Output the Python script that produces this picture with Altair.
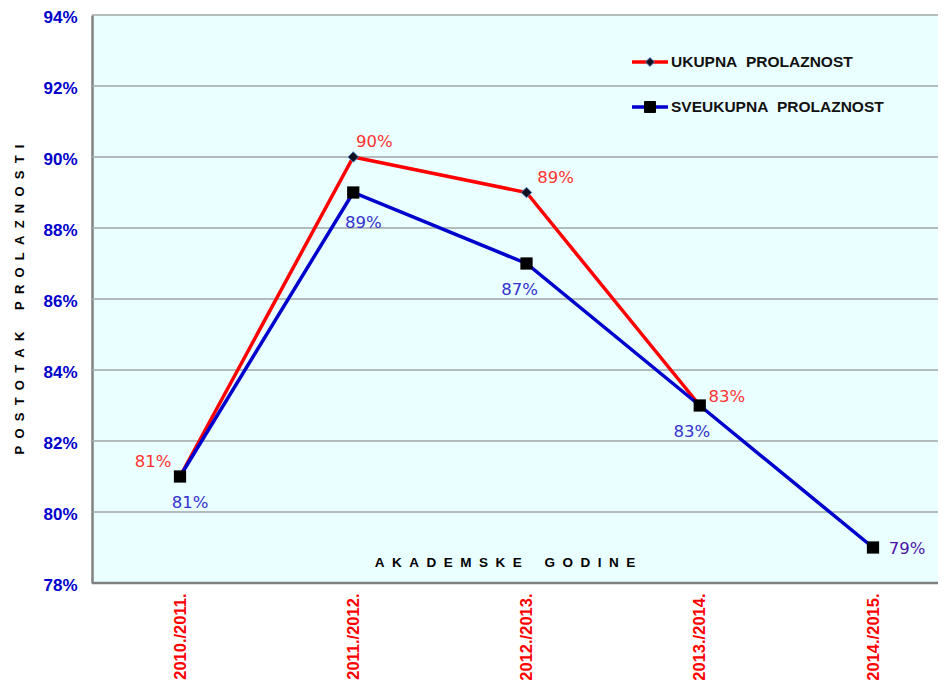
import altair as alt
import pandas as pd

years = ["2010./2011.", "2011./2012.", "2012./2013.", "2013./2014.", "2014./2015."]
ukupna = [81, 90, 89, 83, None]
sveukupna = [81, 89, 87, 83, 79]
series_names = ["UKUPNA PROLAZNOST", "SVEUKUPNA PROLAZNOST"]
y_ticks = [78, 80, 82, 84, 86, 88, 90, 92, 94]

rows = []
for name, vals in zip(series_names, [ukupna, sveukupna]):
    for yr, v in zip(years, vals):
        if v is not None:
            rows.append({"godina": yr, "serija": name, "vrijednost": v})
df = pd.DataFrame(rows)

RED = "#FF0000"
BLUE = "#0000CC"
RED_TXT = "#FF3333"
BLUE_TXT = "#3333CC"
NB = "\u00a0"

def spaced(s, gap=2, word_gap=6):
    words = s.split(" ")
    return (NB * word_gap).join((NB * gap).join(list(w)) for w in words)

# label offsets (style), per series and year index
label_offsets = {
    series_names[0]: [(-27, -15), (21, -15), (29, -15), (27, -9), None],
    series_names[1]: [(10, 26), (10, 30), (-7, 26), (-8, 26), (34, 1)],
}

W, H = 846, 568

x_enc = alt.X("godina:N", sort=years,
              scale=alt.Scale(range=[88, 781], padding=0),
              axis=alt.Axis(title=None, labelAngle=-90, labelColor=RED,
                            labelFont="Liberation Sans", labelFontWeight="bold",
                            labelFontSize=16.5, labelPadding=10, ticks=False,
                            domain=False))
y_axis = alt.Axis(values=y_ticks, labelExpr="datum.value + '%'",
                  labelColor="#0000CC", labelFont="Liberation Sans",
                  labelFontWeight="bold", labelFontSize=17,
                  labelPadding=15, labelOffset=2, ticks=False, grid=False,
                  domainColor="#808080", domainWidth=2.5,
                  title=spaced("POSTOTAK PROLAZNOSTI", 2, 6),
                  titleFont="Liberation Sans", titleFontWeight="bold",
                  titleFontSize=13, titleColor="#000000",
                  titleX=-73, titleY=H / 2, titleAngle=270,
                  titleAlign="center", titleBaseline="middle")
y_scale = alt.Scale(domain=[78, 94], nice=False, zero=False)
y_enc = alt.Y("vrijednost:Q", scale=y_scale, axis=y_axis)
y_grid = alt.Y("v:Q", scale=y_scale, axis=y_axis)

grid_df = pd.DataFrame({"v": y_ticks})
grid = alt.Chart(grid_df).mark_rule(color="#A0A6A6", strokeWidth=1.3).encode(
    x=alt.value(0), x2=alt.value(W), y=y_grid)
bottom = alt.Chart(pd.DataFrame({"v": [y_ticks[0]]})).mark_rule(
    color="#808080", strokeWidth=2.5).encode(x=alt.value(0), x2=alt.value(W), y=y_grid)

red_df = df[df["serija"] == series_names[0]]
blue_df = df[df["serija"] == series_names[1]]

red_line = alt.Chart(red_df).mark_line(color=RED, strokeWidth=3.5).encode(x=x_enc, y=y_enc)
blue_line = alt.Chart(blue_df).mark_line(color=BLUE, strokeWidth=3.5).encode(x=x_enc, y=y_enc)
red_pts = alt.Chart(red_df).mark_point(shape="diamond", size=110, filled=True,
                                       fill="#111122", stroke="#4a7ab5",
                                       strokeWidth=1, opacity=1).encode(x=x_enc, y=y_enc)
blue_pts = alt.Chart(blue_df).mark_point(shape="square", size=150, filled=True,
                                         fill="#000000", opacity=1).encode(x=x_enc, y=y_enc)

layers = [grid, bottom, red_line, blue_line, red_pts, blue_pts]

for name, color in zip(series_names, [RED_TXT, BLUE_TXT]):
    for i, yr in enumerate(years):
        off = label_offsets[name][i]
        if off is None:
            continue
        c = "#4B14A8" if (name == series_names[1] and i == len(years) - 1) else color
        lbl = alt.Chart(df).transform_filter(
            (alt.datum.serija == name) & (alt.datum.godina == yr)
        ).transform_calculate(
            txt="datum.vrijednost + '%'"
        ).mark_text(font="DejaVu Sans", fontSize=16.5, color=c,
                    align="center", baseline="middle",
                    dx=off[0], dy=off[1]).encode(x=x_enc, y=y_enc, text="txt:N")
        layers.append(lbl)

# x-axis title placed inside the plot
xtitle = alt.Chart(pd.DataFrame({"t": [spaced("AKADEMSKE GODINE", 2, 6)]})).mark_text(
    font="Liberation Sans", fontWeight="bold", fontSize=13.5, color="#000000",
    align="center", baseline="middle"
).encode(x=alt.value(413), y=alt.value(548), text="t:N")
layers.append(xtitle)

# manual legend
leg_df = pd.DataFrame({"serija": series_names})
leg_y = [47, 92]
for row, (name, color, shape, size, fill) in enumerate(zip(
        series_names, [RED, BLUE], ["diamond", "square"], [80, 120], ["#111122", "#000000"])):
    d = leg_df[leg_df["serija"] == name]
    rule = alt.Chart(d).mark_rule(color=color, strokeWidth=3.5).encode(
        x=alt.value(540), x2=alt.value(576), y=alt.value(leg_y[row]))
    pt = alt.Chart(d).mark_point(shape=shape, size=size, filled=True, fill=fill,
                                 opacity=1, stroke="#4a7ab5" if row == 0 else "#000000",
                                 strokeWidth=1).encode(
        x=alt.value(558), y=alt.value(leg_y[row]))
    txt = alt.Chart(d).transform_calculate(
        lab="replace(datum.serija, ' ', '\u00a0\u00a0')"
    ).mark_text(font="Liberation Sans", fontWeight="bold", fontSize=15.5,
                color="#111111", align="left", baseline="middle").encode(
        x=alt.value(579), y=alt.value(leg_y[row]), text="lab:N")
    layers += [rule, pt, txt]

chart = alt.layer(*layers).properties(
    width=W, height=H,
    autosize=alt.AutoSizeParams(type="none"),
    padding={"left": 84, "top": 7, "right": 0, "bottom": 97},
    background="#FFFFFF",
).configure_view(fill="#EAFFFF", stroke=None)

chart.save("out.html", embed_options={"renderer": "svg", "actions": False})
